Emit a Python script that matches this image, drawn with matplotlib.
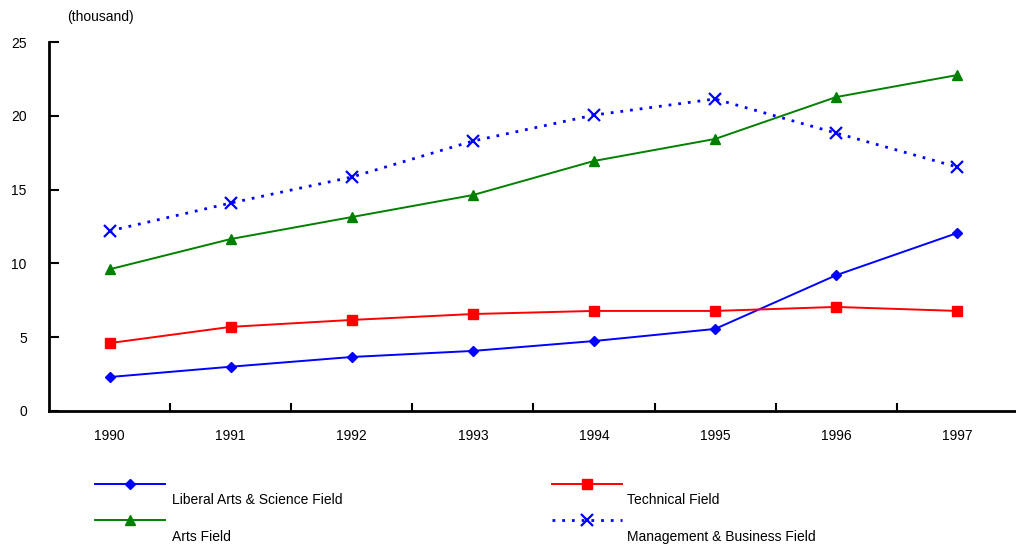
import numpy as np
import matplotlib.pyplot as plt
from matplotlib.lines import Line2D

# Data
years = ['1990', '1991', '1992', '1993', '1994', '1995', '1996', '1997']
liberal = [2.3, 3.0, 3.66, 4.07, 4.74, 5.56, 9.2, 12.06]
technical = [4.6, 5.7, 6.17, 6.57, 6.78, 6.78, 7.05, 6.78]
arts = [9.6, 11.65, 13.14, 14.63, 16.94, 18.43, 21.27, 22.76]
management = [12.2, 14.09, 15.85, 18.29, 20.05, 21.14, 18.83, 16.53]
yticks = [0, 5, 10, 15, 20, 25]

plt.rcParams['font.family'] = ['Liberation Sans', 'DejaVu Sans']

W, H = 1016, 545
fig = plt.figure(figsize=(W / 100, H / 100), dpi=100)
ax = fig.add_axes([49 / W, (H - 411) / H, (1016 - 49) / W, (411 - 42) / H])

x = np.arange(len(years))
styles = [
    (liberal, 'blue', 'D', '-', 5.5, 'Liberal Arts & Science Field'),
    (technical, 'red', 's', '-', 7, 'Technical Field'),
    (arts, 'green', '^', '-', 7.5, 'Arts Field'),
    (management, 'blue', 'x', (0, (1, 2.5)), 8, 'Management & Business Field'),
]
for vals, c, m, ls, ms, lab in styles:
    lw = 2 if m == 'x' else 1.4
    ax.plot(x, vals, color=c, marker=m, linestyle=ls, markersize=ms,
            linewidth=lw, markeredgewidth=1.6 if m == 'x' else 1)

ax.set_xlim(-0.5, len(years) - 0.515)
ax.set_ylim(0, 25)
ax.set_yticks(yticks)
ax.set_yticklabels([str(v) for v in yticks], fontsize=10)
ax.set_xticks(x[:-1] + 0.5, minor=False)
ax.set_xticklabels([])
ax.set_xticks(x, minor=True)
ax.set_xticklabels(years, minor=True, fontsize=10)
ax.tick_params(axis='x', which='major', direction='in', length=6, width=1.5)
ax.tick_params(axis='x', which='minor', length=0, pad=13)
ax.tick_params(axis='y', direction='in', length=7, width=1.5, pad=16)
for s in ['top', 'right']:
    ax.spines[s].set_visible(False)
for s in ['left', 'bottom']:
    ax.spines[s].set_linewidth(2)

fig.text(67 / W, 1 - 17 / H, '(thousand)', fontsize=10, va='center', ha='left')

# legend, drawn by hand: line sample above, label below
pos = [(95, 484, 172, 500), (552, 484, 627, 500), (95, 520, 172, 537), (552, 520, 627, 537)]
for (vals, c, m, ls, ms, lab), (lx, ly, tx, ty) in zip(styles, pos):
    lw = 2 if m == 'x' else 1.4
    fig.add_artist(Line2D([lx / W, (lx + 70) / W], [1 - ly / H, 1 - ly / H],
                          color=c, linestyle=ls, linewidth=lw))
    fig.add_artist(Line2D([(lx + 35) / W], [1 - ly / H], color=c, marker=m,
                          markersize=ms, markeredgewidth=1.6 if m == 'x' else 1))
    fig.text(tx / W, 1 - ty / H, lab, fontsize=10, va='center', ha='left')

fig.savefig('out.png', dpi=100)
